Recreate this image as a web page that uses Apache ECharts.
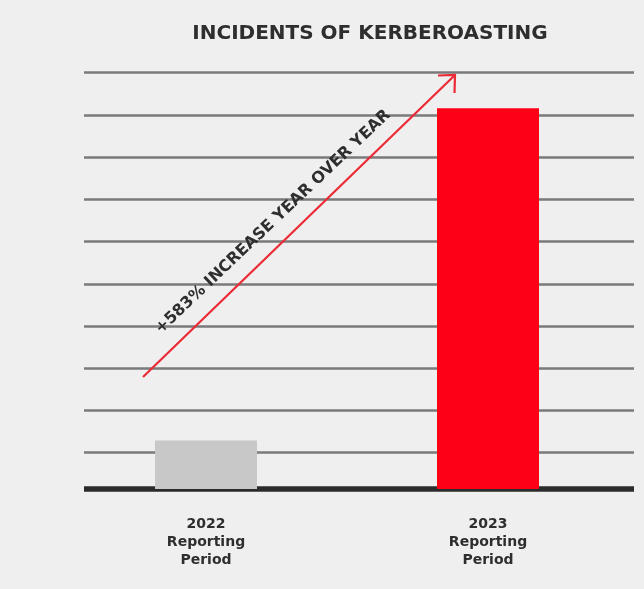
<!DOCTYPE html>
<html><head><meta charset="utf-8">
<script src="https://cdn.jsdelivr.net/npm/echarts@6/dist/echarts.min.js"></script>
<style>html,body{margin:0;padding:0;background:#efefef;}#c{width:644px;height:589px;}</style>
</head><body><div id="c"></div>
<script>
const title = 'INCIDENTS OF KERBEROASTING';
const categories = ['2022\nReporting\nPeriod', '2023\nReporting\nPeriod'];
const values = [1.15, 9.02];
const barColors = ['#c8c8c8', '#fe0016'];
const annotation = '+583% INCREASE YEAR OVER YEAR';
const yMin = -0.14, yMax = 9.86, yStep = 1;

const FONT = '"DejaVu Sans", sans-serif';
const chart = echarts.init(document.getElementById('c'), null, {renderer: 'canvas'});
const gridColors = [];
for (let v = yMin; v <= yMax + 1e-9; v += yStep) gridColors.push(gridColors.length === 0 ? 'rgba(0,0,0,0)' : '#7a7a7a');

chart.setOption({
  backgroundColor: '#efefef',
  animation: false,
  title: {
    text: title, left: 365, top: 19, textAlign: 'center',
    textStyle: {fontFamily: FONT, fontWeight: 'bold', fontSize: 20, color: '#2e2e2e'}
  },
  grid: [
    {left: 84, right: 10, top: 72.7, bottom: 94.1},
    {left: 65, right: 15, top: 72.7, bottom: 94.1}
  ],
  xAxis: [
    {gridIndex: 0, type: 'category', data: categories, axisLabel: {show: false}, axisTick: {show: false},
     axisLine: {onZero: true, lineStyle: {color: '#2b2b2b', width: 5.5, cap: 'butt'}}},
    {gridIndex: 1, type: 'category', data: categories, axisTick: {show: false},
     axisLine: {show: false, onZero: false},
     axisLabel: {margin: 20, fontFamily: FONT, fontWeight: 'bold', fontSize: 14, lineHeight: 18, color: '#2e2e2e',
       formatter: (v, i) => v}}
  ],
  yAxis: [
    {gridIndex: 0, type: 'value', min: yMin, max: yMax, interval: yStep,
     axisLabel: {show: false}, axisLine: {show: false}, axisTick: {show: false},
     splitLine: {show: true, lineStyle: {color: gridColors, width: 2.5}}},
    {gridIndex: 1, type: 'value', min: yMin, max: yMax, interval: yStep,
     axisLabel: {show: false}, axisLine: {show: false}, axisTick: {show: false}, splitLine: {show: false}}
  ],
  series: [{
    type: 'bar', xAxisIndex: 1, yAxisIndex: 1, barWidth: 102,
    data: values.map((v, i) => ({value: v, itemStyle: {color: barColors[i]}})),
    z: 3
  }],
  graphic: [
    {type: 'polyline', z: 10, shape: {points: [[143, 377], [455, 75]]}, style: {stroke: '#ec2a36', lineWidth: 2.2, fill: null}},
    {type: 'polyline', z: 10, shape: {points: [[438, 75.5], [455, 75], [454.5, 93]]}, style: {stroke: '#ec2a36', lineWidth: 2.2, fill: null}},
    {type: 'text', z: 10, x: 273, y: 222, rotation: 43.5 * Math.PI / 180,
     style: {text: annotation, fill: '#2e2e2e', font: 'bold 16px "DejaVu Sans", sans-serif', align: 'center', verticalAlign: 'middle'}}
  ]
});
</script></body></html>
